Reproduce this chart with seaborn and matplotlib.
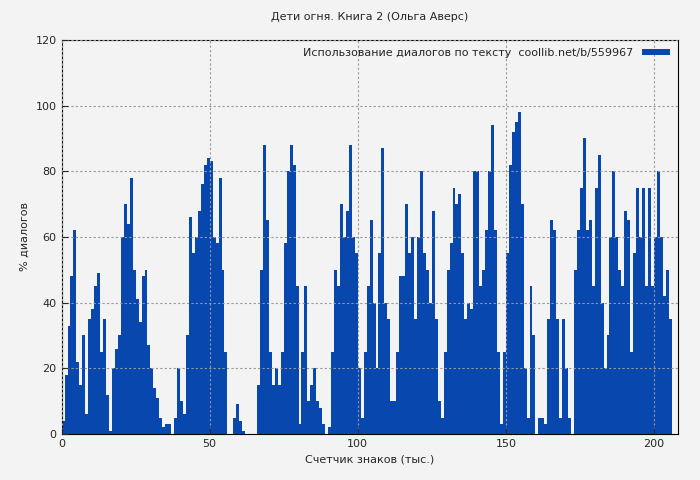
import matplotlib
matplotlib.use("Agg")
import matplotlib.pyplot as plt
import seaborn as sns
import numpy as np

values = [4,18,33,48,62,22,15,30,6,35,38,45,49,25,35,12,1,20,26,30,
          60,70,64,78,50,41,34,48,50,27,20,14,11,5,2,3,3,0,5,20,
          10,6,30,66,55,60,68,76,82,84,83,60,58,78,50,25,0,0,5,9,
          4,1,0,0,0,0,15,50,88,65,25,15,20,15,25,58,80,88,82,45,
          3,25,45,10,15,20,10,8,3,0,2,25,50,45,70,60,68,88,60,55,
          20,5,25,45,65,40,20,55,87,40,35,10,10,25,48,48,70,55,60,35,
          60,80,55,50,40,68,35,10,5,25,50,58,75,70,73,55,35,40,38,80,
          80,45,50,62,80,94,62,25,3,25,55,82,92,95,98,70,20,5,45,30,
          0,5,5,3,35,65,62,35,5,35,20,5,0,50,62,75,90,62,65,45,
          75,85,40,20,30,60,80,60,50,45,68,65,25,55,75,60,75,45,75,45,
          60,80,60,42,50,35]
positions = [i + 0.5 for i in range(len(values))]
x_ticks = [0, 50, 100, 150, 200]
y_ticks = [0, 20, 40, 60, 80, 100, 120]

sns.set_style("ticks")
plt.rcParams['font.family'] = ['DejaVu Sans']
bg = "#f3f3f3"
fig, ax = plt.subplots(figsize=(7, 4.8), dpi=100)
fig.patch.set_facecolor(bg)
ax.set_facecolor(bg)
ax.bar(positions, values, width=1.0, color="#0747AE", linewidth=0,
       label="Использование диалогов по тексту  coollib.net/b/559967")
ax.set_xlim(0, 208)
ax.set_ylim(0, 120)
ax.set_xticks(x_ticks)
ax.set_yticks(y_ticks)
ax.grid(True, color="#999999", linestyle=(0, (2, 2)), linewidth=0.8)
ax.set_axisbelow(False)
for s in ax.spines.values():
    s.set_color("black")
ax.tick_params(labelsize=8, direction="in", length=4)
ax.set_title("Дети огня. Книга 2 (Ольга Аверс)", fontsize=8, pad=14)
ax.set_xlabel("Счетчик знаков (тыс.)", fontsize=8)
ax.set_ylabel("% диалогов", fontsize=8)
leg = ax.legend(loc="upper right", fontsize=8, frameon=False, markerfirst=False,
                handlelength=2.5, handleheight=0.5, borderaxespad=0.3)
plt.subplots_adjust(left=0.088, right=0.968, top=0.917, bottom=0.096)
fig.savefig("out.png", dpi=100, facecolor=bg)
